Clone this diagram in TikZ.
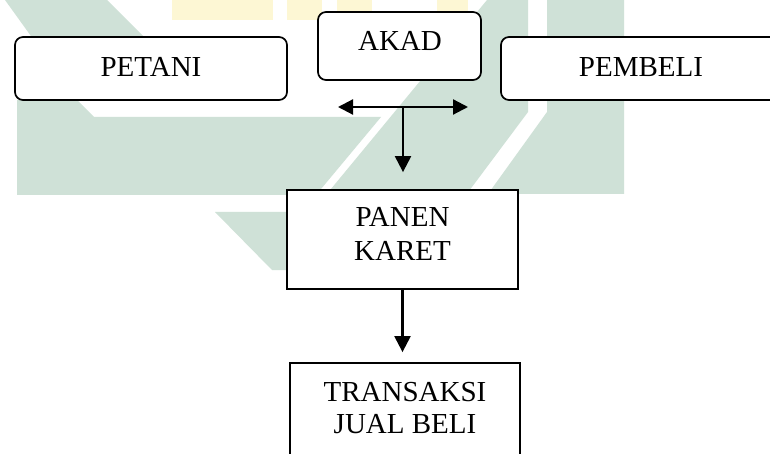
\documentclass[tikz,border=0pt]{standalone}
\usepackage{fontspec}
\setmainfont{Liberation Serif}
\usetikzlibrary{arrows.meta}
\definecolor{wmgreen}{RGB}{207,225,215}
\definecolor{wmyellow}{RGB}{253,247,212}
\begin{document}
\begin{tikzpicture}[x=1pt,y=-1pt,
  rbox/.style={draw=black, line width=1.7pt, fill=white, rounded corners=8pt, inner sep=0pt},
  sbox/.style={draw=black, line width=1.8pt, fill=white, inner sep=0pt},
  txt/.style={font=\fontsize{29}{34}\selectfont, inner sep=0pt, align=center},
  txtb/.style={font=\fontsize{29}{32}\selectfont, inner sep=0pt, align=center},
  arr/.style={line width=2.2pt, -{Triangle[length=16pt,width=16pt]}},
  darr/.style={line width=2.2pt, {Triangle[length=15pt,width=15pt]}-{Triangle[length=15pt,width=15pt]}},
  wm/.style={fill=wmgreen, draw=none},
  wmy/.style={fill=wmyellow, draw=none}]
\useasboundingbox (0,0) rectangle (770,454);
\fill[white] (0,0) rectangle (770,454);
% watermark
\path[wm] (5,0) -- (107,0) -- (207,100) -- (77,100) -- cycle;
\path[wm] (17,100) -- (77,100) -- (94,117) -- (381,117) -- (316,195) -- (17,195) -- cycle;
\path[wm] (487,0) -- (528,0) -- (528,112) -- (466,195) -- (326,195) -- cycle;
\path[wm] (547,0) -- (624,0) -- (624,194) -- (488,194) -- (547,112) -- cycle;
\path[wm] (215,212) -- (300,212) -- (300,270) -- (272,270) -- cycle;
\path[wmy] (172,0) rectangle (273,20);
\path[wmy] (287,0) rectangle (322,20);
\path[wmy] (337,0) rectangle (372,18);
\path[wmy] (437,0) rectangle (468,18);
% boxes
\node[rbox, minimum width=272pt, minimum height=63pt] (petani) at (151,68.5) {};
\node[rbox, minimum width=163pt, minimum height=68pt] (akad) at (399.5,46) {};
\node[rbox, minimum width=289pt, minimum height=63pt] (pembeli) at (645.5,68.5) {};
\node[sbox, minimum width=231pt, minimum height=99pt] (panen) at (402.5,239.5) {};
\node[sbox, minimum width=230pt, minimum height=117pt] (transaksi) at (405,421.5) {};
% texts
\node[txt] (petanitxt) at (151,67.4) {PETANI};
\node[txt] (akadtxt) at (400,41.4) {AKAD};
\node[txt] (pembelitxt) at (641,67.4) {PEMBELI};
\node[txt] (panentxt) at (402.5,234.4) {PANEN\\KARET};
\node[txtb] (transaksitxt) at (405,408.4) {TRANSAKSI\\JUAL BELI};
% connectors
\coordinate (dl) at (338,107);
\coordinate (dr) at (468,107);
\coordinate (dm) at (403,107);
\draw[darr] (dl) -- (dr);
\draw[arr, shorten >=17pt] (dm) -- (dm |- panen.north);
\draw[arr, shorten >=10pt] (panen.south) -- (transaksi.north -| panen.south);
\end{tikzpicture}
\end{document}
